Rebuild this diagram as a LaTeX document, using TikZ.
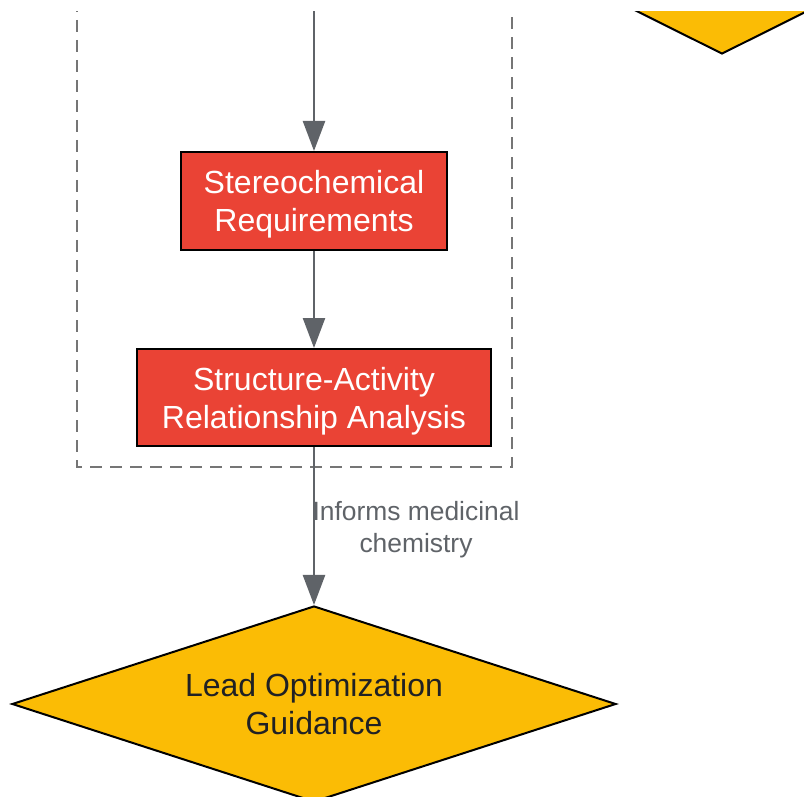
\documentclass[tikz,border=0pt]{standalone}
\usepackage{fontspec}
\setmainfont{Liberation Sans}
\usetikzlibrary{shapes.geometric,arrows.meta}
\definecolor{sarred}{HTML}{EA4335}
\definecolor{leadgold}{HTML}{FBBC05}
\definecolor{flowgray}{HTML}{5F6368}
\definecolor{groupgray}{HTML}{757575}
\definecolor{darktext}{HTML}{202124}
\begin{document}
\begin{tikzpicture}[x=0.5pt,y=-0.5pt,
		redbox/.style={draw=black,line width=1pt,fill=sarred,text=white,align=center,
			font=\fontsize{16}{19}\selectfont,inner sep=0pt,text depth=0pt},
		goal/.style={diamond,aspect=3.08,draw=black,line width=1pt,fill=leadgold,text=darktext,align=center,
			font=\fontsize{16}{19}\selectfont,inner sep=0pt},
		flow/.style={color=flowgray,line width=1.2pt,-{Triangle[length=15pt,width=11pt]}},
		flowlabel/.style={text=flowgray,align=center,font=\fontsize{13.2}{16}\selectfont}]
	\useasboundingbox (0,0) rectangle (804,797);
	\clip (0,12) rectangle (804,797);

	% group frame
	\draw[groupgray,line width=1pt,dash pattern=on 6pt off 4pt] (77,-20) rectangle (512,467);

	\coordinate (entry) at (314,0);
	\node[goal,aspect=2,minimum width=120pt,minimum height=60pt] (prior) at (722,-6) {};
	\node[redbox,minimum width=133pt,minimum height=49pt] (stereo) at (314,201) {Stereochemical\\Requirements};
	\node[redbox,minimum width=177pt,minimum height=48.5pt] (sar) at (314,397.5) {Structure-Activity\\Relationship Analysis};
	\node[goal,minimum width=302pt,minimum height=98pt] (lead) at (314,704) {Lead Optimization\\Guidance};

	\path (entry) edge[flow] (stereo);
	\path (stereo) edge[flow] (sar);
	\path (sar) edge[flow] node[flowlabel,midway,xshift=51pt,yshift=-2pt] {Informs medicinal\\chemistry} (lead);
\end{tikzpicture}
\end{document}
